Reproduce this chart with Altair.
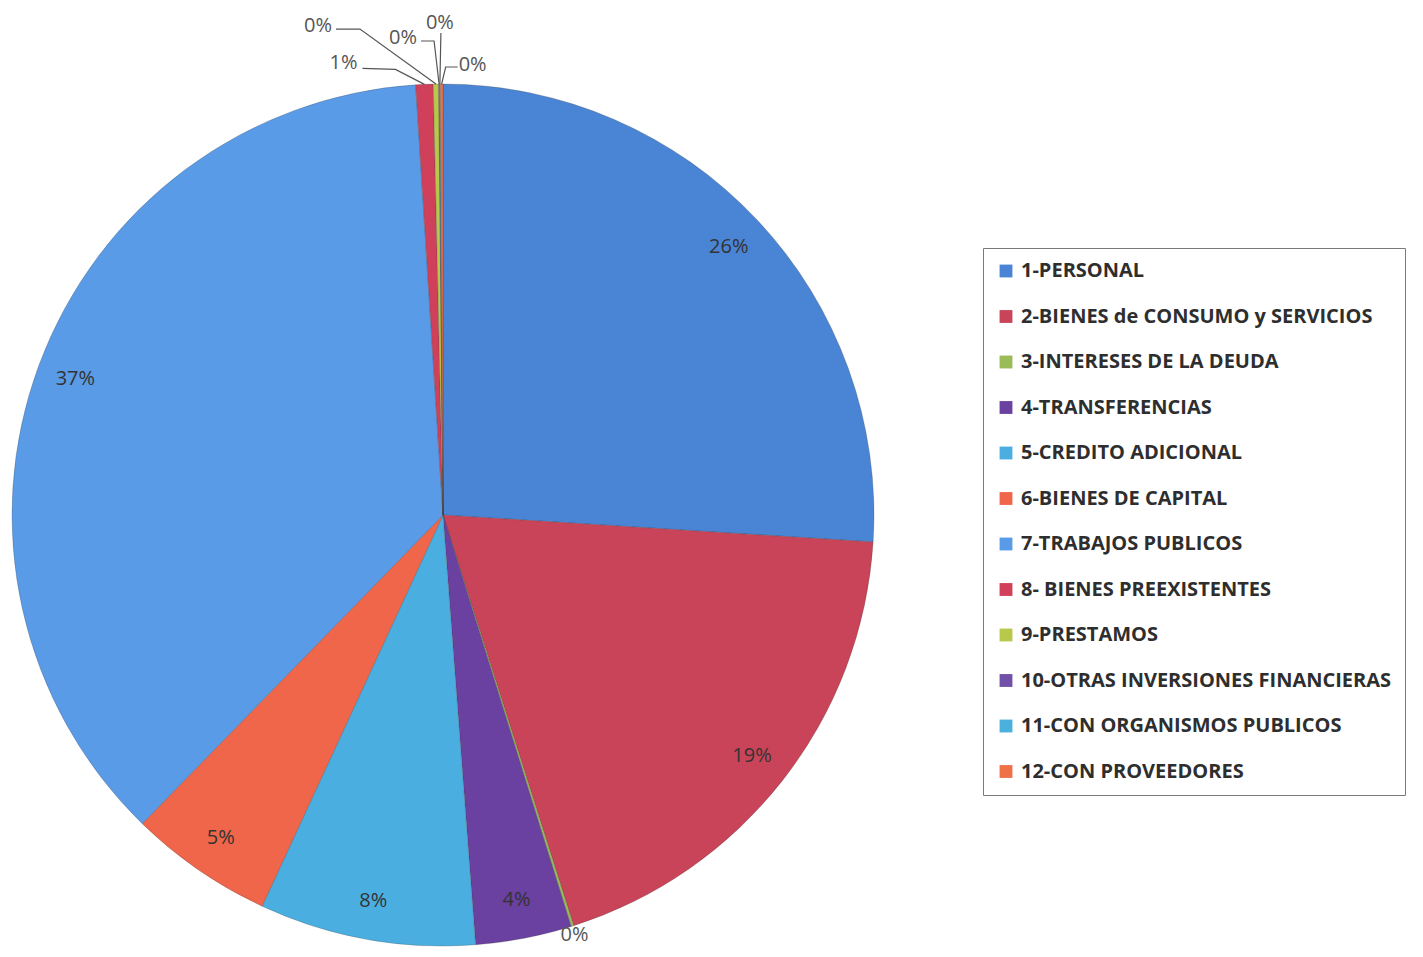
import altair as alt
import pandas as pd
import numpy as np

categories = [
    "1-PERSONAL",
    "2-BIENES de CONSUMO y SERVICIOS",
    "3-INTERESES DE LA DEUDA",
    "4-TRANSFERENCIAS",
    "5-CREDITO ADICIONAL",
    "6-BIENES DE CAPITAL",
    "7-TRABAJOS PUBLICOS",
    "8- BIENES PREEXISTENTES",
    "9-PRESTAMOS",
    "10-OTRAS INVERSIONES FINANCIERAS",
    "11-CON ORGANISMOS PUBLICOS",
    "12-CON PROVEEDORES",
]
shares = [26.0, 19.1, 0.1, 3.6, 8.1, 5.4, 36.7, 0.65, 0.2, 0.03, 0.03, 0.1]
colors = ["#4a84d4", "#c94458", "#9bbb59", "#6a40a0", "#4aafe0", "#f0664a",
          "#5a9be8", "#d0405a", "#b8c84a", "#7050a8", "#4ab0dc", "#f07048"]

# layout (pixels inside the plot area)
CX, CY, R = 435, 507, 431
LABEL_R = 392
FONT = "Open Sans"

df = pd.DataFrame({"category": categories, "share": shares})
df["idx"] = range(len(df))
total = df["share"].sum()
df["pct"] = (df["share"] / total * 100).round().astype(int).astype(str) + "%"
end = df["share"].cumsum() / total * 2 * np.pi
start = end - df["share"] / total * 2 * np.pi
df["mid"] = (start + end) / 2
df["ax"] = CX + R * np.sin(df["mid"])
df["ay"] = CY - R * np.cos(df["mid"])

# inside labels for the larger slices
inside = df[df["share"] >= 2].copy()
inside["lx"] = CX + LABEL_R * np.sin(inside["mid"])
inside["ly"] = CY - LABEL_R * np.cos(inside["mid"])

# outside labels (small slices): label offset from slice edge point and leader path offsets
outside_layout = {
    7: dict(label=(-81, -21), path=[(-29, -15), (-62, -16)]),
    8: dict(label=(-118, -58), path=[(-76, -55), (-100, -55)]),
    9: dict(label=(-36, -46), path=[(-5, -43), (-18, -43)]),
    10: dict(label=(0, -61), path=[(1, -51)]),
    11: dict(label=(31, -19), path=[(4, -17), (16, -17)]),
    2: dict(label=(2, 9), path=[]),
}
out_rows, line_rows = [], []
for i, lay in outside_layout.items():
    r = df.iloc[i]
    out_rows.append({"idx": i, "pct": r["pct"],
                     "lx": r["ax"] + lay["label"][0], "ly": r["ay"] + lay["label"][1]})
    if lay["path"]:
        line_rows.append({"idx": i, "o": 0, "px": r["ax"], "py": r["ay"]})
        for k, (dx, dy) in enumerate(lay["path"]):
            line_rows.append({"idx": i, "o": k + 1, "px": r["ax"] + dx, "py": r["ay"] + dy})
outside = pd.DataFrame(out_rows)
lines = pd.DataFrame(line_rows)

pie = alt.Chart(df).mark_arc(outerRadius=R, stroke="#3a3a3a", strokeWidth=0.5,
                             strokeOpacity=0.5).encode(
    theta=alt.Theta("share:Q", stack=True),
    order=alt.Order("idx:Q"),
    x=alt.value(CX),
    y=alt.value(CY),
    color=alt.Color(
        "category:N",
        sort=categories,
        scale=alt.Scale(domain=categories, range=colors),
        legend=alt.Legend(
            title=None, orient="none", legendX=975, legendY=240,
            padding=13, fillColor="white", strokeColor="#7a7a7a",
            symbolType="square", symbolSize=165, symbolStrokeWidth=0,
            labelFont=FONT, labelFontSize=20, labelFontWeight="bold",
            labelColor="#2e2e2e", labelLimit=0, rowPadding=25.5, labelOffset=5,
        ),
    ),
)

in_text = alt.Chart(inside).mark_text(font=FONT, fontSize=20, color="#333333",
                                      align="center", baseline="middle").encode(
    x=alt.X("lx:Q", scale=None, axis=None),
    y=alt.Y("ly:Q", scale=None, axis=None),
    text="pct:N",
)

leaders = alt.Chart(lines).mark_line(color="#555555", strokeWidth=1.2).encode(
    x=alt.X("px:Q", scale=None, axis=None),
    y=alt.Y("py:Q", scale=None, axis=None),
    detail="idx:N",
    order="o:Q",
)

out_text = alt.Chart(outside).mark_text(font=FONT, fontSize=20, color="#555555",
                                        align="center", baseline="middle").encode(
    x=alt.X("lx:Q", scale=None, axis=None),
    y=alt.Y("ly:Q", scale=None, axis=None),
    text="pct:N",
)

chart = alt.layer(pie, in_text, leaders, out_text).properties(
    width=1405, height=941, padding=0,
    autosize=alt.AutoSizeParams(type="none"),
).configure_view(stroke=None)

chart.save("out.html", embed_options={"renderer": "svg", "actions": False})
